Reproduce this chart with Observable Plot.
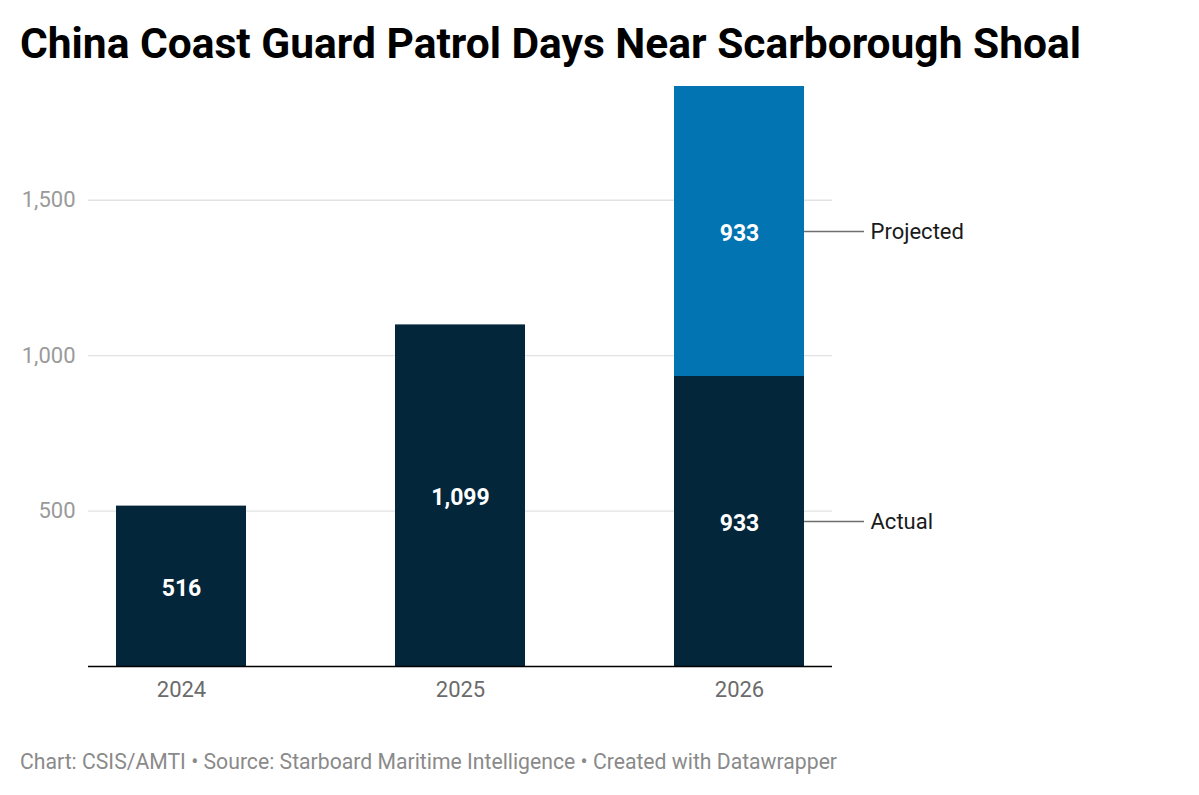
<!DOCTYPE html>
<html>
<head>
<meta charset="utf-8">
<script src="https://cdn.jsdelivr.net/npm/d3@7"></script>
<script src="https://cdn.jsdelivr.net/npm/@observablehq/plot@0.6"></script>
<style>
  html, body { margin: 0; padding: 0; background: #fff; }
  body { width: 1199px; height: 795px; overflow: hidden; font-family: Roboto, "Noto Sans", sans-serif; }
  .title { box-sizing: border-box; height: 80px; padding: 22px 0 0 20px; font-size: 42.5px; line-height: 43px; font-weight: 700; color: #000; white-space: nowrap; }
  .caption { padding: 30px 0 0 20px; font-size: 21.2px; line-height: 24px; color: #8a8a8a; white-space: nowrap; }
  #chart svg { display: block; }
</style>
</head>
<body>
<div class="title">China Coast Guard Patrol Days Near Scarborough Shoal</div>
<div id="chart"></div>
<div class="caption">Chart: CSIS/AMTI • Source: Starboard Maritime Intelligence • Created with Datawrapper</div>
<script>
// Patrol days per year; 2026 is split into actual-to-date and projected remainder
const years = ["2024", "2025", "2026"];
const actualDays = [516, 1099, 933];
const projectedDays = [0, 0, 933];
const segments = ["Actual", "Projected"];
const segmentColors = ["#03263a", "#0174b1"];
const yTicks = [500, 1000, 1500];

const rows = [];
years.forEach((year, i) => {
  rows.push({year, segment: "Actual", days: actualDays[i]});
  if (projectedDays[i] > 0) rows.push({year, segment: "Projected", days: projectedDays[i]});
});

// Segment names placed beside the stacked final bar
const lastYear = years[years.length - 1];
const lastRows = rows.filter(d => d.year === lastYear);

const width = 1199, height = 640;
const marginLeft = 88, marginRight = 367, marginTop = 6, marginBottom = 54;
const paddingInner = 0.534, paddingOuter = 0.1;
const step = (width - marginLeft - marginRight) / (years.length - paddingInner + 2 * paddingOuter);
const bandwidth = step * (1 - paddingInner);
const fmt = d3.format(",");

const stackBy = {x: "year", y: "days", z: "segment", order: segments};

const chart = Plot.plot({
  width, height, marginLeft, marginRight, marginTop, marginBottom,
  style: {fontFamily: "Roboto, sans-serif", background: "#fff"},
  x: {domain: years, paddingInner, paddingOuter, label: null},
  y: {domain: [0, d3.sum(lastRows, d => d.days)], label: null},
  color: {domain: segments, range: segmentColors},
  marks: [
    Plot.ruleY(yTicks, {stroke: "#e2e2e2", strokeWidth: 1.3}),
    Plot.barY(rows, Plot.stackY({...stackBy, fill: "segment"})),
    Plot.ruleY([0], {stroke: "#000", strokeWidth: 1.5}),
    Plot.axisX({tickSize: 0, tickPadding: 15, fontSize: 22, color: "#6b6b6b", label: null}),
    Plot.axisY({ticks: yTicks, tickFormat: fmt, tickSize: 0, tickPadding: 13, fontSize: 22, color: "#9a9a9a", label: null}),
    Plot.text(rows, Plot.stackY({
      ...stackBy,
      text: d => fmt(d.days), fill: "#fff", fontSize: 23, fontWeight: 700, dy: 2
    })),
    Plot.tickY(lastRows, Plot.stackY({
      ...stackBy,
      stroke: "#6e6e6e", strokeWidth: 1.5,
      insetLeft: bandwidth, insetRight: -60
    })),
    Plot.text(lastRows, Plot.stackY({
      ...stackBy,
      text: "segment", textAnchor: "start", dx: bandwidth / 2 + 66,
      fill: "#1a1a1a", fontSize: 22
    }))
  ]
});

document.getElementById("chart").append(chart);
</script>
</body>
</html>
